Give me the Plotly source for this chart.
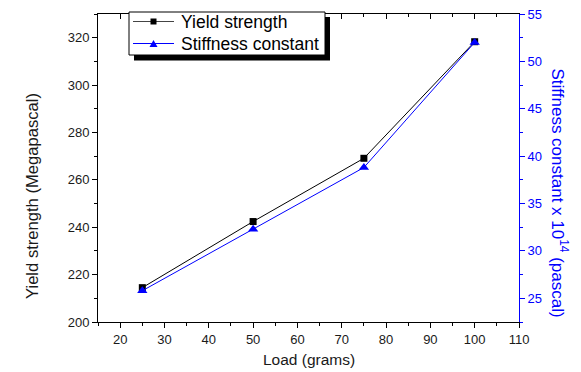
import plotly.graph_objects as go

load = [25, 50, 75, 100]
yield_strength = [214.5, 242.4, 269.1, 318.3]
stiffness = [25.8, 32.3, 38.8, 52.0]

x_ticks = [20, 30, 40, 50, 60, 70, 80, 90, 100, 110]
left_ticks = [200, 220, 240, 260, 280, 300, 320]
right_ticks = [25, 30, 35, 40, 45, 50, 55]
legend_labels = ["Yield strength", "Stiffness constant"]

FONT = "Liberation Sans, Arial, sans-serif"
BLUE = "#0000ff"

W, H = 581, 372
ML, MR, MT, MB = 98, 62, 14, 50
PW, PH = W - ML - MR, H - MT - MB


def px(x):
    return (x - ML) / PW


def py(y):
    return (H - MB - y) / PH


fig = go.Figure()
fig.add_trace(go.Scatter(
    x=load, y=yield_strength, mode="lines+markers", name=legend_labels[0],
    line=dict(color="black", width=1),
    marker=dict(symbol="square", size=7, color="black"), showlegend=False,
))
fig.add_trace(go.Scatter(
    x=load, y=stiffness, mode="lines+markers", name=legend_labels[1],
    line=dict(color=BLUE, width=1),
    marker=dict(symbol="triangle-up", size=9, color=BLUE),
    yaxis="y2", showlegend=False,
))
# invisible trace to activate the top (inward) tick axis
fig.add_trace(go.Scatter(
    x=[load[0]], y=[yield_strength[0]], mode="markers", marker=dict(opacity=0),
    showlegend=False, hoverinfo="skip", xaxis="x3",
))

# legend drawn manually (box with drop shadow)
shapes = [
    dict(type="rect", xref="paper", yref="paper",
         x0=px(134), x1=px(330), y0=py(60.5), y1=py(17),
         fillcolor="black", line=dict(width=0), layer="above"),
    dict(type="rect", xref="paper", yref="paper",
         x0=px(129), x1=px(325), y0=py(55), y1=py(12),
         fillcolor="white", line=dict(color="black", width=1), layer="above"),
    dict(type="line", xref="paper", yref="paper",
         x0=px(133), x1=px(174), y0=py(21.5), y1=py(21.5),
         line=dict(color="#444", width=1), layer="above"),
    dict(type="rect", xref="paper", yref="paper",
         x0=px(150.5), x1=px(156.5), y0=py(24.5), y1=py(18.5),
         fillcolor="black", line=dict(width=0), layer="above"),
    dict(type="line", xref="paper", yref="paper",
         x0=px(133), x1=px(174), y0=py(43.5), y1=py(43.5),
         line=dict(color=BLUE, width=1), layer="above"),
    dict(type="path", xref="paper", yref="paper",
         path=f"M {px(149.5)} {py(47)} L {px(157.5)} {py(47)} L {px(153.5)} {py(40)} Z",
         fillcolor=BLUE, line=dict(width=0), layer="above"),
]

xr = [15, 110]
fig.update_layout(
    width=W, height=H,
    margin=dict(l=ML, r=MR, t=MT, b=MB, autoexpand=False),
    paper_bgcolor="white", plot_bgcolor="white",
    font=dict(family=FONT, size=13, color="#1a1a1a"),
    showlegend=False,
    xaxis=dict(
        range=xr, tickvals=x_ticks, ticks="outside", ticklen=5, tickwidth=1,
        tickcolor="black", showline=True, linecolor="black", linewidth=1,
        mirror=True, showgrid=False, zeroline=False, automargin=False,
        minor=dict(dtick=5, tick0=15, ticks="outside", ticklen=3, tickcolor="black", showgrid=False),
        tickfont=dict(size=13),
    ),
    xaxis3=dict(
        range=xr, overlaying="x", side="top", anchor="y", tickvals=x_ticks,
        ticks="inside", ticklen=5, tickcolor="black", showticklabels=False,
        showline=False, showgrid=False, zeroline=False, automargin=False,
        minor=dict(dtick=5, tick0=15, ticks="inside", ticklen=3, tickcolor="black", showgrid=False),
    ),
    yaxis=dict(
        range=[200, 330], tickvals=left_ticks, ticks="outside", ticklen=5,
        tickcolor="black", showline=True, linecolor="black", linewidth=1,
        showgrid=False, zeroline=False, automargin=False,
        minor=dict(dtick=10, tick0=200, ticks="outside", ticklen=3, tickcolor="black", showgrid=False),
        tickfont=dict(size=13),
    ),
    yaxis2=dict(
        range=[22.5, 55], overlaying="y", side="right", tickvals=right_ticks,
        ticks="outside", ticklen=5, tickcolor=BLUE, showline=True,
        linecolor=BLUE, linewidth=1, showgrid=False, zeroline=False, automargin=False,
        minor=dict(dtick=2.5, tick0=25, ticks="outside", ticklen=3, tickcolor=BLUE, showgrid=False),
        tickfont=dict(size=13, color=BLUE),
    ),
    shapes=shapes,
    annotations=[
        dict(text=legend_labels[0], xref="paper", yref="paper", x=px(179), y=py(22),
             xanchor="left", yanchor="middle", showarrow=False,
             font=dict(size=17.5, color="black")),
        dict(text=legend_labels[1], xref="paper", yref="paper", x=px(179), y=py(44),
             xanchor="left", yanchor="middle", showarrow=False,
             font=dict(size=17.5, color="black")),
        dict(text="Load (grams)", xref="paper", yref="paper", x=0.5, y=0,
             yshift=-37, xanchor="center", yanchor="middle", showarrow=False,
             font=dict(size=15.5, color="#1a1a1a")),
        dict(text="Yield strength (Megapascal)", xref="paper", yref="paper",
             x=0, xshift=-65, y=py(196), xanchor="center", yanchor="middle",
             textangle=-90, showarrow=False, font=dict(size=16.6, color="#1a1a1a")),
        dict(text="Stiffness constant x 10<sup>14</sup> (pascal)", xref="paper",
             yref="paper", x=1, xshift=41, y=py(192.5), xanchor="center",
             yanchor="middle", textangle=90, showarrow=False,
             font=dict(size=17, color=BLUE)),
    ],
)

fig.write_html("out.html")
